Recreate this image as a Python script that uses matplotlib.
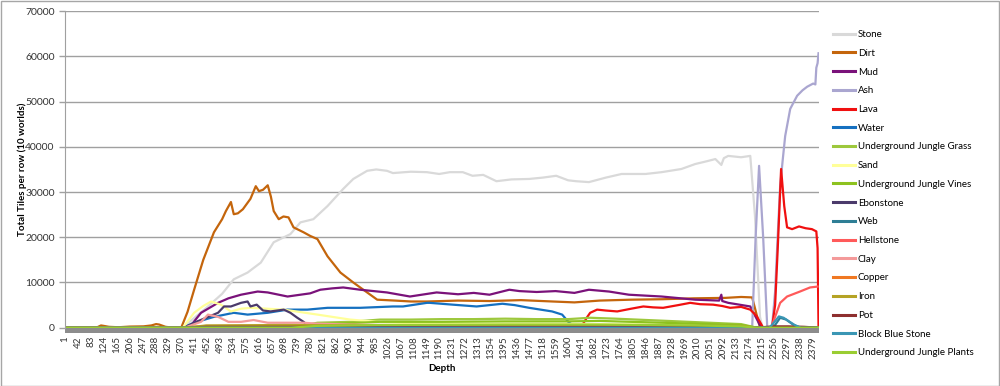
import matplotlib
matplotlib.use('Agg')
import matplotlib.pyplot as plt
from matplotlib.patches import Rectangle
from matplotlib.lines import Line2D

plt.rcParams['font.family'] = ['Lato', 'DejaVu Sans']

# ---- data ----
n_rows = 2397
tick_depths = list(range(1, 2380, 41))

stone_depth = [1, 380, 400, 455, 500, 537, 581, 623, 664, 717, 749, 790, 835, 885, 917, 961, 990, 1024, 1043, 1100, 1151,
               1190, 1224, 1265, 1296, 1330, 1372, 1420, 1476, 1520, 1562, 1600, 1625, 1666, 1720, 1770, 1846, 1897, 1960,
               2004, 2040, 2068, 2087, 2095, 2109, 2150, 2179, 2194, 2210, 2218, 2396]
stone_val = [0, 0, 1500, 4700, 7500, 10700, 12200, 14400, 18900, 20700, 23300, 24000, 26900, 30700, 32900, 34700, 35000,
             34700, 34200, 34500, 34400, 34000, 34400, 34400, 33600, 33800, 32400, 32800, 32900, 33200, 33600, 32600, 32400,
             32200, 33200, 34000, 34000, 34400, 35100, 36200, 36800, 37300, 36000, 37500, 38000, 37700, 38000, 24700, 2400,
             0, 0]

dirt_depth = [1, 100, 115, 124, 140, 170, 206, 250, 275, 290, 300, 320, 345, 370, 390, 411, 440, 474, 500, 512, 528, 537,
              550, 566, 590, 607, 617, 630, 645, 655, 664, 680, 695, 711, 727, 759, 780, 803, 835, 876, 917, 961, 993, 1050,
              1100, 1151, 1250, 1350, 1450, 1550, 1620, 1700, 1800, 1900, 2000, 2100, 2150, 2185, 2210, 2396]
dirt_val = [0, 0, 500, 400, 200, 100, 250, 300, 500, 800, 700, 200, 0, 0, 3500, 8400, 15000, 21100, 24000, 25800, 27800,
            25100, 25300, 26200, 28500, 31300, 30200, 30500, 31500, 29000, 25800, 24000, 24600, 24400, 22200, 21100, 20300,
            19600, 15800, 12200, 10000, 7800, 6200, 6000, 5800, 5800, 6000, 5900, 6100, 5800, 5600, 6000, 6200, 6300, 6500,
            6600, 6800, 6700, 0, 0]

mud_depth = [1, 395, 433, 487, 520, 560, 613, 645, 708, 749, 780, 812, 850, 885, 939, 1024, 1097, 1182, 1250, 1300, 1350,
             1413, 1445, 1500, 1560, 1620, 1666, 1730, 1793, 1897, 2004, 2080, 2087, 2090, 2109, 2179, 2214, 2396]
mud_val = [0, 0, 3300, 5500, 6500, 7300, 8000, 7800, 6900, 7300, 7600, 8400, 8700, 8900, 8400, 7800, 6900, 7800, 7400, 7700,
           7300, 8400, 8100, 7900, 8100, 7700, 8400, 8000, 7300, 6900, 6200, 6000, 7300, 5900, 5500, 4700, 0, 0]

ash_depth = [1, 2185, 2196, 2207, 2220, 2233, 2248, 2258, 2266, 2274, 2282, 2290, 2306, 2328, 2345, 2360, 2379, 2386, 2389,
             2393, 2396]
ash_val = [0, 0, 20000, 35800, 20000, 0, 0, 8000, 20000, 31300, 37000, 42400, 48400, 51300, 52500, 53300, 54000, 53800,
           57500, 58500, 60700]

lava_depth = [1, 1640, 1661, 1670, 1692, 1720, 1756, 1800, 1839, 1870, 1902, 1950, 1988, 2020, 2061, 2090, 2115, 2150, 2179,
              2200, 2220, 2248, 2258, 2266, 2277, 2287, 2296, 2312, 2334, 2355, 2375, 2389, 2393, 2396]
lava_val = [0, 0, 2400, 3300, 4000, 3800, 3600, 4200, 4700, 4500, 4400, 5000, 5500, 5200, 5100, 4800, 4400, 4600, 4000, 2500,
            0, 0, 5000, 17000, 35100, 26900, 22200, 21800, 22400, 22000, 21800, 21300, 17600, 0]

water_depth = [1, 375, 411, 474, 537, 581, 645, 708, 771, 835, 939, 1043, 1075, 1151, 1160, 1233, 1309, 1391, 1430, 1476,
               1549, 1581, 1603, 1620, 1700, 1800, 1900, 2000, 2100, 2180, 2396]
water_val = [0, 0, 1100, 2400, 3300, 2900, 3300, 4000, 4000, 4400, 4400, 4700, 4700, 5500, 5500, 5100, 4700, 5300, 5000,
             4400, 3600, 2900, 1100, 400, 300, 300, 300, 200, 200, 0, 0]

jgrass_depth = [1, 700, 760, 803, 907, 1002, 1100, 1200, 1300, 1400, 1500, 1600, 1670, 1750, 1850, 1950, 2050, 2150, 2200,
                2396]
jgrass_val = [0, 0, 500, 1100, 1300, 1800, 1800, 1900, 1900, 2000, 1900, 1900, 2200, 2000, 1700, 1400, 1100, 800, 0, 0]

sand_depth = [1, 375, 411, 440, 465, 496, 528, 560, 591, 696, 803, 907, 993, 1100, 1300, 1500, 1700, 1900, 2100, 2180, 2396]
sand_val = [0, 0, 3300, 4800, 5800, 5100, 3600, 4200, 4400, 4000, 2900, 1800, 1300, 1000, 900, 900, 800, 700, 600, 0, 0]

jvines_depth = [1, 720, 800, 900, 1000, 1200, 1400, 1600, 1700, 1850, 2000, 2150, 2200, 2396]
jvines_val = [0, 0, 700, 1000, 1300, 1300, 1400, 1400, 1500, 1200, 900, 600, 0, 0]

ebon_depth = [1, 380, 411, 487, 506, 528, 560, 581, 590, 610, 630, 654, 696, 717, 739, 759, 780, 2396]
ebon_val = [0, 0, 1100, 3300, 4700, 4700, 5500, 5800, 4700, 5100, 3800, 3600, 4000, 3300, 2200, 1300, 0, 0]

web_depth = [1, 400, 600, 1000, 1500, 2000, 2200, 2252, 2274, 2293, 2315, 2337, 2396]
web_val = [0, 100, 200, 200, 200, 150, 0, 0, 2200, 1800, 700, 0, 0]

hell_depth = [1, 2245, 2258, 2274, 2296, 2337, 2369, 2393]
hell_val = [0, 0, 2400, 5500, 6900, 8000, 8900, 9100]

clay_depth = [1, 380, 433, 455, 487, 520, 560, 600, 645, 700, 760, 800, 900, 1000, 1200, 1400, 1600, 1800, 2000, 2180, 2396]
clay_val = [0, 0, 1300, 2900, 2400, 1300, 1300, 1700, 1100, 1100, 1100, 900, 700, 600, 500, 500, 400, 400, 300, 0, 0]

copper_depth = [1, 380, 450, 700, 1000, 1400, 1800, 2150, 2200, 2396]
copper_val = [0, 0, 400, 400, 350, 300, 300, 250, 0, 0]

iron_depth = [1, 380, 450, 700, 1000, 1400, 1800, 2150, 2200, 2396]
iron_val = [0, 0, 500, 600, 500, 500, 450, 400, 0, 0]

pot_depth = [1, 380, 450, 1000, 1600, 2150, 2200, 2250, 2300, 2350, 2396]
pot_val = [0, 0, 200, 200, 200, 150, 0, 300, 300, 200, 0]

bluestone_depth = [1, 2240, 2255, 2270, 2285, 2300, 2320, 2340, 2396]
bluestone_val = [0, 0, 1200, 2500, 2200, 1500, 600, 0, 0]

jplants_depth = [1, 720, 800, 1000, 1400, 1700, 2000, 2150, 2200, 2396]
jplants_val = [0, 0, 400, 600, 700, 700, 500, 300, 0, 0]

series = [
    ('Stone', stone_depth, stone_val, '#d9d9d9'),
    ('Dirt', dirt_depth, dirt_val, '#c4650c'),
    ('Mud', mud_depth, mud_val, '#7a127a'),
    ('Ash', ash_depth, ash_val, '#aaa6d0'),
    ('Lava', lava_depth, lava_val, '#f01010'),
    ('Water', water_depth, water_val, '#1570c0'),
    ('Underground Jungle Grass', jgrass_depth, jgrass_val, '#9dc83c'),
    ('Sand', sand_depth, sand_val, '#ffff99'),
    ('Underground Jungle Vines', jvines_depth, jvines_val, '#8dc21f'),
    ('Ebonstone', ebon_depth, ebon_val, '#4b3a6b'),
    ('Web', web_depth, web_val, '#2e7e95'),
    ('Hellstone', hell_depth, hell_val, '#ff5a5a'),
    ('Clay', clay_depth, clay_val, '#f49a9a'),
    ('Copper', copper_depth, copper_val, '#f07822'),
    ('Iron', iron_depth, iron_val, '#b5a325'),
    ('Pot', pot_depth, pot_val, '#8e2f2f'),
    ('Block Blue Stone', bluestone_depth, bluestone_val, '#3a96b4'),
    ('Underground Jungle Plants', jplants_depth, jplants_val, '#9acd32'),
]

# ---- figure ----
fig = plt.figure(figsize=(10, 3.86), dpi=100)
fig.patches.append(Rectangle((0.0005, 0.001), 0.998, 0.997, transform=fig.transFigure,
                             fill=False, edgecolor='#a6a6a6', lw=1))
ax = fig.add_axes([0.065, 0.151, 0.754, 0.820])

handles = []
for name, d, v, c in series:
    ax.plot(d, v, color=c, lw=1.6, label=name, solid_joinstyle='round')
    handles.append(Line2D([0], [0], color=c, lw=2.2))

ax.set_xlim(0.5, n_rows + 0.5)
ax.set_ylim(0, 70000)
ax.set_yticks(range(0, 70001, 10000))
ax.yaxis.grid(True, color='#a0a0a0', lw=1)
ax.set_axisbelow(True)
for s in ['top', 'right']:
    ax.spines[s].set_visible(False)
ax.spines['left'].set_color('#a0a0a0')
ax.spines['bottom'].set_visible(False)
ax.tick_params(axis='y', colors='#a0a0a0', labelcolor='#333333', labelsize=7.5, length=4, width=1)

ax.set_xticks(tick_depths)
ax.set_xticklabels([str(t) for t in tick_depths], rotation=90)
ax.tick_params(axis='x', length=0, pad=6, labelsize=7, labelcolor='#333333')

# dense category tick marks appear as a solid grey band under the plot
ax.add_patch(Rectangle((0, -0.016), 1, 0.016, transform=ax.transAxes, clip_on=False,
                       facecolor='#8c8c8c', edgecolor='none'))

ax.set_ylabel('Total Tiles per row (10 worlds)', fontsize=7, fontweight='bold')
ax.yaxis.set_label_coords(-0.051, 0.5)
ax.set_xlabel('Depth', fontsize=7, fontweight='bold', labelpad=4)

fig.legend(handles, [s[0] for s in series], loc='upper left', bbox_to_anchor=(0.833, 0.922),
           frameon=False, fontsize=7, handlelength=2.3, handletextpad=0.25, labelspacing=1.0,
           borderpad=0, borderaxespad=0)

fig.savefig('out.png', dpi=100)
